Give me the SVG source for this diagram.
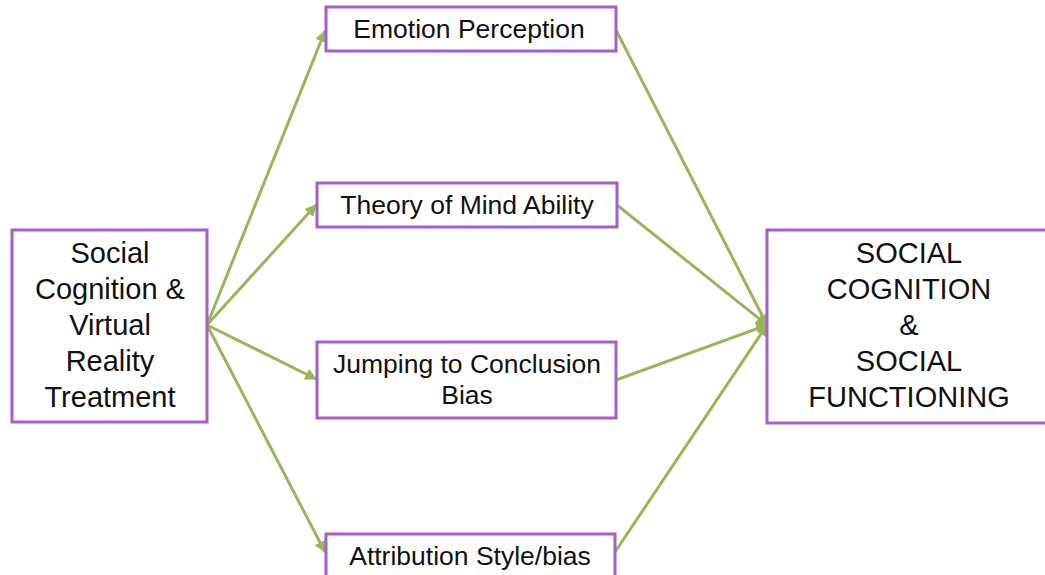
<svg xmlns="http://www.w3.org/2000/svg" width="1045" height="575" viewBox="0 0 1045 575">
  <style>
    .box { fill: #ffffff; stroke: #a55fc6; stroke-width: 3; }
    .link { stroke: #9bb65a; stroke-width: 3; fill: none; }
    .big { font-family: "Liberation Sans", Arial, sans-serif; font-size: 29px; fill: #111; text-anchor: middle; }
    .mid { font-family: "Liberation Sans", Arial, sans-serif; font-size: 26.5px; fill: #111; text-anchor: middle; }
  </style>
  <defs>
    <marker id="arrow" viewBox="0 0 10 10" refX="9" refY="5" markerWidth="4" markerHeight="4" orient="auto" markerUnits="strokeWidth">
      <path d="M0,0 L10,5 L0,10 z" fill="#9bb65a"/>
    </marker>
  </defs>
  <rect width="1045" height="575" fill="#ffffff"/>

  <g id="connectors">
    <line class="link" x1="207" y1="325" x2="325" y2="31" marker-end="url(#arrow)"/>
    <line class="link" x1="207" y1="325" x2="316" y2="205" marker-end="url(#arrow)"/>
    <line class="link" x1="207" y1="325" x2="316" y2="379" marker-end="url(#arrow)"/>
    <line class="link" x1="207" y1="325" x2="325" y2="552" marker-end="url(#arrow)"/>
    <line class="link" x1="616" y1="30" x2="767" y2="325" marker-end="url(#arrow)"/>
    <line class="link" x1="617" y1="205" x2="767" y2="325" marker-end="url(#arrow)"/>
    <line class="link" x1="616" y1="380" x2="767" y2="325" marker-end="url(#arrow)"/>
    <line class="link" x1="615" y1="552" x2="767" y2="325" marker-end="url(#arrow)"/>
  </g>

  <g id="treatment">
    <rect class="box" x="12" y="230" width="195" height="192"/>
    <text class="big" x="110" y="263">Social</text>
    <text class="big" x="110" y="299">Cognition &amp;</text>
    <text class="big" x="110" y="335">Virtual</text>
    <text class="big" x="110" y="371">Reality</text>
    <text class="big" x="110" y="407">Treatment</text>
  </g>

  <g id="emotion-perception">
    <rect class="box" x="326" y="7" width="290" height="44"/>
    <text class="mid" x="469" y="38">Emotion Perception</text>
  </g>

  <g id="theory-of-mind">
    <rect class="box" x="317" y="183" width="300" height="44"/>
    <text class="mid" x="467" y="214">Theory of Mind Ability</text>
  </g>

  <g id="jumping-to-conclusion">
    <rect class="box" x="317" y="342" width="299" height="76"/>
    <text class="mid" x="467" y="373">Jumping to Conclusion</text>
    <text class="mid" x="467" y="404">Bias</text>
  </g>

  <g id="attribution-style">
    <rect class="box" x="326" y="534" width="289" height="50"/>
    <text class="mid" x="470" y="565">Attribution Style/bias</text>
  </g>

  <g id="outcome">
    <rect class="box" x="767" y="230" width="290" height="193"/>
    <text class="big" x="909" y="263">SOCIAL</text>
    <text class="big" x="909" y="299">COGNITION</text>
    <text class="big" x="909" y="335">&amp;</text>
    <text class="big" x="909" y="371">SOCIAL</text>
    <text class="big" x="909" y="407">FUNCTIONING</text>
  </g>
</svg>
